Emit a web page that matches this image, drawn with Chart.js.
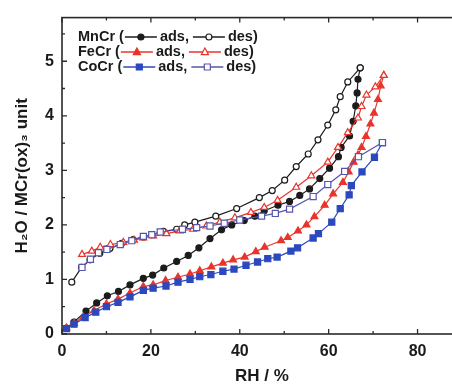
<!DOCTYPE html>
<html>
<head>
<meta charset="utf-8">
<script src="https://cdn.jsdelivr.net/npm/chart.js@4/dist/chart.umd.min.js"></script>
<style>
  body { margin: 0; background: #fff; overflow: hidden; }
  #wrap { width: 452px; height: 387px; overflow: hidden; }
</style>
</head>
<body>
<div id="wrap"><canvas id="myChart" width="472" height="387"></canvas></div>
<script>
// RH (%) and H2O per formula unit
var mnAdsX = [1.0, 2.7, 5.4, 7.8, 10.2, 12.7, 15.3, 18.3, 20.4, 22.9, 25.8, 28.4, 30.8, 33.3, 35.9, 38.2, 41, 43.4, 45.5, 48.6, 51.2, 53.5, 55.7, 58, 60.2, 62.2, 62.8, 64.7, 65.5, 66.1, 66.4, 66.6, 67.1];
var mnAdsY = [0.11, 0.22, 0.42, 0.57, 0.70, 0.78, 0.90, 1.02, 1.08, 1.21, 1.33, 1.44, 1.58, 1.75, 1.91, 2.0, 2.08, 2.16, 2.26, 2.36, 2.43, 2.54, 2.66, 2.85, 3.04, 3.25, 3.42, 3.63, 3.90, 4.18, 4.42, 4.67, 4.88];
var mnDesX = [2.2, 4.4, 6.3, 8.5, 10.8, 13.4, 16, 18.3, 20.2, 22.8, 25.8, 27.6, 29.9, 34.6, 39.3, 44.4, 47.3, 50.1, 52.7, 55.4, 57.6, 59.8, 61.6, 62.6, 64.3, 67.1];
var mnDesY = [0.95, 1.22, 1.36, 1.48, 1.57, 1.66, 1.73, 1.78, 1.82, 1.88, 1.92, 2.0, 2.05, 2.16, 2.30, 2.50, 2.63, 2.82, 3.07, 3.30, 3.56, 3.83, 4.11, 4.35, 4.62, 4.88];

var feAdsX = [1.0, 2.7, 4.8, 7.2, 10, 12.6, 15.3, 18.3, 20.5, 23.3, 26.1, 28.8, 31, 33.6, 36.2, 38.5, 41.1, 43.6, 45.6, 49.3, 50.8, 53.1, 55, 56.8, 59.1, 61, 63.2, 64.5, 65.6, 66.6, 67.4, 68.4, 69.4, 70.2, 71.1, 71.7, 72.4];
var feAdsY = [0.11, 0.20, 0.31, 0.43, 0.55, 0.64, 0.75, 0.87, 0.90, 0.98, 1.04, 1.10, 1.16, 1.23, 1.30, 1.36, 1.41, 1.51, 1.59, 1.71, 1.77, 1.89, 2.0, 2.15, 2.36, 2.57, 2.78, 2.97, 3.15, 3.28, 3.42, 3.62, 3.85, 4.05, 4.30, 4.55, 4.74];
var feDesX = [4.5, 6.7, 8.6, 10.9, 13.8, 16.2, 18.3, 20.5, 23.5, 26.5, 29.5, 32.5, 35.5, 38.9, 42.5, 45.5, 48.5, 52.7, 56.1, 59.8, 62.1, 64.3, 66.6, 67.4, 68.5, 70.5, 72.4];
var feDesY = [1.46, 1.52, 1.59, 1.64, 1.68, 1.72, 1.76, 1.80, 1.84, 1.89, 1.92, 1.98, 2.05, 2.13, 2.23, 2.32, 2.45, 2.69, 2.90, 3.15, 3.42, 3.69, 3.96, 4.17, 4.38, 4.53, 4.74];

var coAdsX = [1.0, 2.7, 5.2, 7.6, 10, 12.6, 15.3, 18.3, 20.5, 23.4, 26.1, 28.8, 31, 33.5, 36.2, 38.7, 41.4, 44, 46.3, 48.4, 51.5, 53, 56.5, 57.7, 60.7, 62.6, 64.6, 65.1, 67.5, 70.3, 72.1];
var coAdsY = [0.10, 0.18, 0.30, 0.40, 0.50, 0.58, 0.68, 0.80, 0.84, 0.88, 0.95, 1.00, 1.05, 1.09, 1.15, 1.19, 1.26, 1.32, 1.38, 1.41, 1.52, 1.58, 1.76, 1.84, 2.05, 2.30, 2.55, 2.72, 2.97, 3.24, 3.51];
var coDesX = [4.5, 6.4, 8.2, 10.1, 13.1, 15.7, 18.3, 20.2, 22.1, 27.1, 30.3, 33.3, 36.5, 40, 44.9, 48, 51.2, 56.5, 59.8, 63.6, 66.7, 72.1];
var coDesY = [1.22, 1.37, 1.49, 1.55, 1.64, 1.71, 1.79, 1.82, 1.87, 1.92, 1.95, 1.98, 2.03, 2.09, 2.16, 2.21, 2.29, 2.52, 2.74, 2.98, 3.25, 3.51];

var xTickLabels = [0, 20, 40, 60, 80];
var yTickLabels = [0, 1, 2, 3, 4, 5];

function pts(xs, ys) {
  return xs.map(function (x, i) { return { x: x, y: ys[i] }; });
}

var BLACK = "#1c1c1c";
var RED = "#e8342b";
var BLUE = "#2c48bd";
var BLUE2 = "#5656ad";

function series(label, xs, ys, color, style, filled, radius) {
  return {
    label: label,
    data: pts(xs, ys),
    showLine: true,
    borderColor: color,
    borderWidth: 1.2,
    pointStyle: style,
    pointRadius: radius,
    pointBorderWidth: 1.2,
    pointBorderColor: color,
    pointBackgroundColor: filled ? color : "#fff"
  };
}

// legend rows: "MnCr (—●— ads, —○— des)"
var legendRows = [
  { name: "MnCr (", color: BLACK, color2: BLACK, shape: "circle" },
  { name: "FeCr (", color: RED, color2: RED, shape: "triangle" },
  { name: "CoCr (", color: BLUE, color2: BLUE2, shape: "square" }
];

function marker(ctx, shape, x, y, color, filled) {
  ctx.save();
  ctx.strokeStyle = color;
  ctx.fillStyle = filled ? color : "#fff";
  ctx.lineWidth = 1.2;
  ctx.beginPath();
  if (shape == "circle") {
    ctx.arc(x, y, 3, 0, Math.PI * 2);
  } else if (shape == "triangle") {
    ctx.moveTo(x, y - 4);
    ctx.lineTo(x + 3.6, y + 2.6);
    ctx.lineTo(x - 3.6, y + 2.6);
    ctx.closePath();
  } else {
    ctx.rect(x - 3, y - 3, 6, 6);
  }
  ctx.fill();
  ctx.stroke();
  ctx.restore();
}

var framePlugin = {
  id: "frame",
  afterDraw: function (chart) {
    var ctx = chart.ctx;
    var a = chart.chartArea;
    var xs = chart.scales.x, ys = chart.scales.y;
    ctx.save();
    ctx.strokeStyle = "#2a2a2a";
    ctx.lineWidth = 1.6;
    ctx.strokeRect(a.left, a.top, a.right - a.left, a.bottom - a.top);
    ctx.lineWidth = 1.3;
    ctx.beginPath();
    // inward ticks, all four sides
    for (var v = 0; v <= 90; v += 10) {
      var px = xs.getPixelForValue(v);
      var len = (v % 20 == 0) ? 5 : 3;
      ctx.moveTo(px, a.bottom); ctx.lineTo(px, a.bottom - len);
      ctx.moveTo(px, a.top); ctx.lineTo(px, a.top + len);
    }
    for (var w = 0; w <= 5.5; w += 0.5) {
      var py = ys.getPixelForValue(w);
      var l2 = (w % 1 == 0) ? 5 : 3;
      ctx.moveTo(a.left, py); ctx.lineTo(a.left + l2, py);
      ctx.moveTo(a.right, py); ctx.lineTo(a.right - l2, py);
    }
    ctx.stroke();

    // legend
    ctx.font = "bold 14.5px 'Liberation Sans', Arial, sans-serif";
    ctx.textBaseline = "middle";
    for (var i = 0; i < legendRows.length; i++) {
      var r = legendRows[i];
      var y = 37 + i * 15;
      var x = 78;
      ctx.fillStyle = "#1a1a1a";
      ctx.fillText(r.name, x, y);
      x += ctx.measureText(r.name).width + 1;
      ctx.strokeStyle = r.color;
      ctx.lineWidth = 1.3;
      ctx.beginPath(); ctx.moveTo(x, y); ctx.lineTo(x + 32, y); ctx.stroke();
      marker(ctx, r.shape, x + 16, y, r.color, true);
      x += 35;
      ctx.fillStyle = "#1a1a1a";
      ctx.fillText("ads,", x, y);
      x += ctx.measureText("ads,").width + 4;
      ctx.strokeStyle = r.color2;
      ctx.beginPath(); ctx.moveTo(x, y); ctx.lineTo(x + 32, y); ctx.stroke();
      marker(ctx, r.shape, x + 16, y, r.color2, false);
      x += 35;
      ctx.fillStyle = "#1a1a1a";
      ctx.fillText("des)", x, y);
    }
    ctx.restore();
  }
};

var tickFont = { family: "'Liberation Sans', Arial, sans-serif", size: 16, weight: "bold" };
var titleFont = { family: "'Liberation Sans', Arial, sans-serif", size: 17, weight: "bold" };

var chart = new Chart(document.getElementById("myChart"), {
  type: "scatter",
  data: {
    datasets: [
      series("CoCr des", coDesX, coDesY, BLUE2, "rect", false, 4.3),
      series("CoCr ads", coAdsX, coAdsY, BLUE, "rect", true, 4.3),
      series("FeCr des", feDesX, feDesY, RED, "triangle", false, 4),
      series("FeCr ads", feAdsX, feAdsY, RED, "triangle", true, 4),
      series("MnCr des", mnDesX, mnDesY, BLACK, "circle", false, 3),
      series("MnCr ads", mnAdsX, mnAdsY, BLACK, "circle", true, 3)
    ]
  },
  options: {
    responsive: false,
    animation: false,
    layout: { padding: { left: 0, top: 13, right: 10, bottom: 0 } },
    plugins: { legend: { display: false }, tooltip: { enabled: false } },
    scales: {
      x: {
        type: "linear", min: 0, max: 90,
        grid: { display: false, drawTicks: false },
        border: { display: false },
        ticks: { stepSize: 20, padding: 8, color: "#1a1a1a", font: tickFont, maxRotation: 0 },
        afterBuildTicks: function (s) {
          s.ticks = xTickLabels.map(function (v) { return { value: v }; });
        },
        afterFit: function (s) { s.height = 53; },
        title: { display: true, text: "RH / %", color: "#1a1a1a", font: titleFont, padding: { top: 0, bottom: 0 } }
      },
      y: {
        type: "linear", min: 0, max: 5.8,
        grid: { display: false, drawTicks: false },
        border: { display: false },
        ticks: { stepSize: 1, padding: 8, color: "#1a1a1a", font: tickFont },
        afterBuildTicks: function (s) {
          s.ticks = yTickLabels.map(function (v) { return { value: v }; });
        },
        afterFit: function (s) { s.width = 62; },
        title: { display: true, text: "H\u2082O / MCr(ox)\u2083 unit", color: "#1a1a1a", font: titleFont, padding: { top: 12, bottom: 0 } }
      }
    }
  },
  plugins: [framePlugin]
});
</script>
</body>
</html>
